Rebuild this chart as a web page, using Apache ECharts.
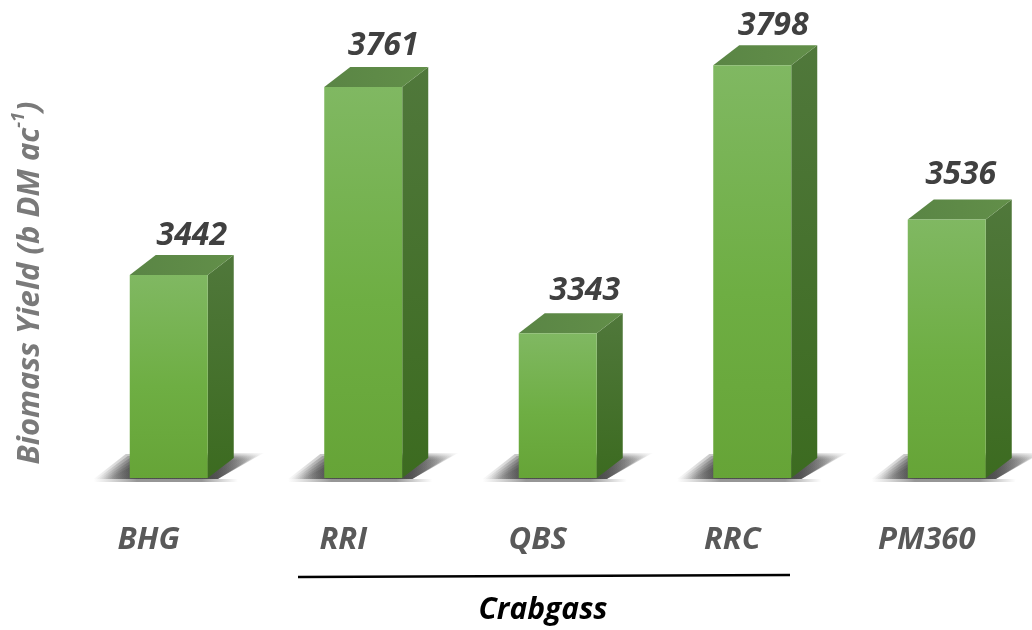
<!DOCTYPE html>
<html>
<head>
<meta charset="utf-8">
<style>
  html, body { margin: 0; padding: 0; background: #fff; }
  #chart { width: 1032px; height: 630px; }
</style>
<script src="https://cdn.jsdelivr.net/npm/echarts@6/dist/echarts.min.js"></script>
</head>
<body>
<div id="chart"></div>
<script>
const categories = ['BHG', 'RRI', 'QBS', 'RRC', 'PM360'];
const yieldValues = [3442, 3761, 3343, 3798, 3536];
const yMin = 3097;
const yMax = 3909;

const FONT = '"Open Sans", sans-serif';
const DEPTH_X = 26;
const DEPTH_Y = 20;
// value labels were placed by hand in the original
const LABEL_DX = [23, 20, 27, 21, 14];
const LABEL_DY = [-39, -41, -42, -39, -45];
// soft floor shadow: stacked polygons, widest first
const SHADOW_GROW = [10, 8, 6, 4, 2, 0];

function vGrad(top, bottom) {
    return new echarts.graphic.LinearGradient(0, 0, 0, 1, [
        { offset: 0, color: top },
        { offset: 1, color: bottom }
    ]);
}

function hGrad(stops) {
    return new echarts.graphic.LinearGradient(0, 0, 1, 0, stops);
}

function renderBar(params, api) {
    const i = api.value(0);
    const top = api.coord([i, api.value(1)]);
    const base = api.coord([i, yMin]);
    const w = api.size([1, 0])[0] * 0.401;
    const x0 = top[0] - w / 2;
    const x1 = top[0] + w / 2;
    const y0 = top[1];
    const y1 = base[1];

    const shadow = SHADOW_GROW.map((g) => ({
        type: 'polygon',
        shape: { points: [[x0 - 22 - g * 1.4, y1 + 1], [x0 + 6 - g, y1 - 14 - g], [x1 + 42 + g * 1.4, y1 - 19 - g * 0.6], [x1 + 10, y1 + 1]] },
        style: {
            fill: hGrad([
                { offset: 0, color: 'rgba(60,60,60,0.02)' },
                { offset: 0.22, color: 'rgba(55,55,55,0.3)' },
                { offset: 0.72, color: 'rgba(55,55,55,0.3)' },
                { offset: 1, color: 'rgba(60,60,60,0.02)' }
            ])
        }
    }));

    return {
        type: 'group',
        children: shadow.concat([
            {
                type: 'rect',
                shape: { x: x0 - 36, y: y1 + 1, width: w + 66, height: 3 },
                style: {
                    fill: hGrad([
                        { offset: 0, color: 'rgba(170,170,170,0)' },
                        { offset: 0.3, color: 'rgba(150,150,150,1)' },
                        { offset: 0.75, color: 'rgba(150,150,150,1)' },
                        { offset: 1, color: 'rgba(170,170,170,0)' }
                    ])
                }
            },
            // right side
            {
                type: 'polygon',
                shape: { points: [[x1, y0], [x1 + DEPTH_X, y0 - DEPTH_Y], [x1 + DEPTH_X, y1 - DEPTH_Y], [x1, y1]] },
                style: { fill: vGrad('#50783b', '#3c6b20') }
            },
            // top face
            {
                type: 'polygon',
                shape: { points: [[x0, y0], [x0 + DEPTH_X, y0 - DEPTH_Y], [x1 + DEPTH_X, y0 - DEPTH_Y], [x1, y0]] },
                style: { fill: hGrad([{ offset: 0, color: '#5a8545' }, { offset: 1, color: '#628f49' }]) }
            },
            // front
            {
                type: 'rect',
                shape: { x: x0, y: y0, width: w, height: y1 - y0 },
                style: {
                    fill: new echarts.graphic.LinearGradient(0, 0, 0, 1, [
                        { offset: 0, color: '#80b862' },
                        { offset: 0.55, color: '#6eae43' },
                        { offset: 1, color: '#66a437' }
                    ])
                }
            },
            // value label
            {
                type: 'text',
                style: {
                    text: String(api.value(1)),
                    x: top[0] + LABEL_DX[i],
                    y: y0 + LABEL_DY[i],
                    align: 'center',
                    verticalAlign: 'middle',
                    fill: '#404040',
                    font: 'italic bold 32px ' + FONT
                }
            }
        ])
    };
}

const chart = echarts.init(document.getElementById('chart'));
chart.setOption({
    animation: false,
    backgroundColor: '#ffffff',
    grid: { left: 71.5, top: 0, width: 972.5, height: 478, containLabel: false, outerBoundsMode: 'none' },
    xAxis: {
        type: 'category',
        data: categories,
        axisLine: { show: false },
        axisTick: { show: false },
        axisLabel: {
            interval: 0,
            margin: 47,
            padding: [0, 40, 0, 0],
            color: '#595959',
            fontFamily: FONT,
            fontStyle: 'italic',
            fontWeight: 'bold',
            fontSize: 31
        }
    },
    yAxis: {
        type: 'value',
        min: yMin,
        max: yMax,
        axisLine: { show: false },
        axisTick: { show: false },
        axisLabel: { show: false },
        splitLine: { show: false },
        name: '{main|Biomass Yield (b DM ac}{sup|-1}{main|)}',
        nameLocation: 'middle',
        nameGap: 20,
        nameRotate: 90,
        nameTextStyle: {
            padding: [0, 88, 0, 0],
            rich: {
                main: { color: '#7a7a7a', fontFamily: FONT, fontStyle: 'italic', fontWeight: 'bold', fontSize: 31, lineHeight: 42 },
                sup: { color: '#7a7a7a', fontFamily: FONT, fontStyle: 'italic', fontWeight: 'bold', fontSize: 18, lineHeight: 34, verticalAlign: 'top' }
            }
        }
    },
    series: [{
        type: 'custom',
        renderItem: renderBar,
        encode: { x: 0, y: 1 },
        data: categories.map((c, i) => [i, yieldValues[i]])
    }],
    graphic: [
        {
            type: 'line',
            shape: { x1: 298, y1: 577, x2: 790, y2: 575 },
            style: { stroke: '#000', lineWidth: 2.5 }
        },
        {
            type: 'text',
            x: 543,
            y: 610,
            style: {
                text: 'Crabgass',
                align: 'center',
                verticalAlign: 'middle',
                fill: '#000',
                font: 'italic bold 30px ' + FONT
            }
        }
    ]
});
</script>
</body>
</html>
